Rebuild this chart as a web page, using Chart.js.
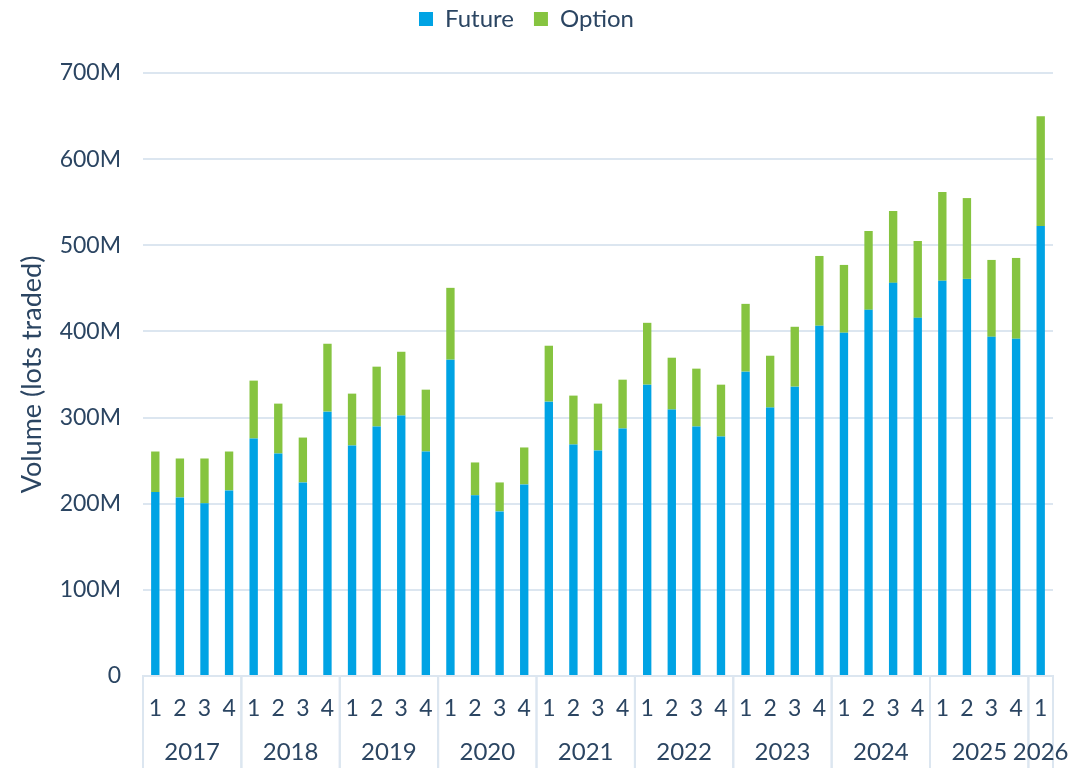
<!DOCTYPE html>
<html lang="en">
<head>
<meta charset="UTF-8">
<title>Volume</title>
<script src="https://cdn.jsdelivr.net/npm/chart.js"></script>
<style>
  html, body { margin: 0; padding: 0; background: #fff; }
  #wrap { width: 1071px; height: 768px; position: relative; }
</style>
</head>
<body>
<div id="wrap"><canvas id="volumeChart"></canvas></div>
<script>
// quarter and year for every bar
const quarters = ['1','2','3','4','1','2','3','4','1','2','3','4','1','2','3','4','1','2','3','4',
                  '1','2','3','4','1','2','3','4','1','2','3','4','1','2','3','4','1'];
const years = ['2017','2017','2017','2017','2018','2018','2018','2018','2019','2019','2019','2019',
               '2020','2020','2020','2020','2021','2021','2021','2021','2022','2022','2022','2022',
               '2023','2023','2023','2023','2024','2024','2024','2024','2025','2025','2025','2025','2026'];
// values in millions of lots
const futureVol = [213.5, 207.3, 200.4, 215.4, 275.7, 258.3, 224.7, 306.9, 267.6, 289.6, 302.3, 260.6,
                   367.2, 209.7, 191.1, 222.4, 318.5, 268.7, 261.8, 287.3, 338.2, 309.3, 289.6, 278.0,
                   353.3, 311.6, 335.9, 406.6, 398.5, 425.1, 456.4, 415.8, 458.7, 461.0, 393.8, 391.5, 522.4];
const optionVol = [47.1, 45.2, 52.1, 45.2, 67.2, 57.9, 52.1, 78.8, 60.2, 69.5, 74.1, 71.8,
                   83.4, 38.2, 33.6, 42.9, 64.9, 56.8, 54.4, 56.7, 71.8, 60.2, 67.2, 60.2,
                   78.7, 60.2, 69.5, 81.0, 78.7, 91.5, 83.4, 89.2, 103.1, 93.8, 89.2, 93.8, 127.4];

const textColor = '#2B4562';
const gridColor = '#DCE6F0';
const fontName = 'Lato, "Open Sans", sans-serif';

// draws the year row and the group separators under the quarter labels
const yearRow = {
    id: 'yearRow',
    afterDraw(chart) {
        const ctx = chart.ctx;
        const x = chart.scales.x;
        const half = (x.getPixelForValue(1) - x.getPixelForValue(0)) / 2;
        const top = chart.chartArea.bottom;
        const bottom = chart.height;
        ctx.save();
        ctx.strokeStyle = gridColor;
        ctx.lineWidth = 2;
        ctx.fillStyle = textColor;
        ctx.font = '24px ' + fontName;
        ctx.textAlign = 'center';
        ctx.textBaseline = 'middle';
        let start = 0;
        for (let i = 1; i <= years.length; i++) {
            if (i === years.length || years[i] !== years[start]) {
                const left = x.getPixelForValue(start) - half;
                const right = x.getPixelForValue(i - 1) + half;
                ctx.beginPath();
                ctx.moveTo(left, top);
                ctx.lineTo(left, bottom);
                ctx.moveTo(right, top);
                ctx.lineTo(right, bottom);
                ctx.stroke();
                ctx.fillText(years[start], (left + right) / 2, 752);
                start = i;
            }
        }
        ctx.restore();
    }
};

// extra room under the legend
const legendGap = {
    id: 'legendGap',
    beforeInit(chart) {
        const fit = chart.legend.fit;
        chart.legend.fit = function () {
            fit.bind(chart.legend)();
            this.height += 32;
        };
    }
};

const ctx = document.getElementById('volumeChart').getContext('2d');
const volumeChart = new Chart(ctx, {
    type: 'bar',
    data: {
        labels: quarters,
        datasets: [
            {
                label: 'Future',
                data: futureVol,
                backgroundColor: '#00A3E4',
                barPercentage: 0.34,
                categoryPercentage: 1
            },
            {
                label: 'Option',
                data: optionVol,
                backgroundColor: '#86C440',
                barPercentage: 0.34,
                categoryPercentage: 1
            }
        ]
    },
    options: {
        responsive: true,
        maintainAspectRatio: false,
        animation: false,
        layout: { padding: { top: -13, right: 18, left: 0, bottom: 0 } },
        plugins: {
            legend: {
                position: 'top',
                labels: {
                    boxWidth: 14,
                    boxHeight: 14,
                    padding: 20,
                    color: textColor,
                    font: { family: fontName, size: 24 }
                }
            },
            tooltip: { enabled: false }
        },
        scales: {
            x: {
                stacked: true,
                grid: { display: false, drawTicks: false },
                border: { display: true, color: gridColor, width: 2 },
                ticks: {
                    color: textColor,
                    padding: 19,
                    maxRotation: 0,
                    autoSkip: false,
                    font: { family: fontName, size: 23 }
                },
                afterFit: (scale) => { scale.height = 92; }
            },
            y: {
                stacked: true,
                min: 0,
                max: 700,
                grid: { color: gridColor, lineWidth: 2, drawTicks: false },
                border: { display: false },
                ticks: {
                    stepSize: 100,
                    color: textColor,
                    padding: 22,
                    font: { family: fontName, size: 23 },
                    callback: (v) => v === 0 ? '0' : v + 'M'
                },
                title: {
                    display: true,
                    text: 'Volume (lots traded)',
                    color: textColor,
                    padding: { top: 16, bottom: 0 },
                    font: { family: fontName, size: 27 }
                },
                afterFit: (scale) => { scale.width = 143; }
            }
        }
    },
    plugins: [yearRow, legendGap]
});
</script>
</body>
</html>
